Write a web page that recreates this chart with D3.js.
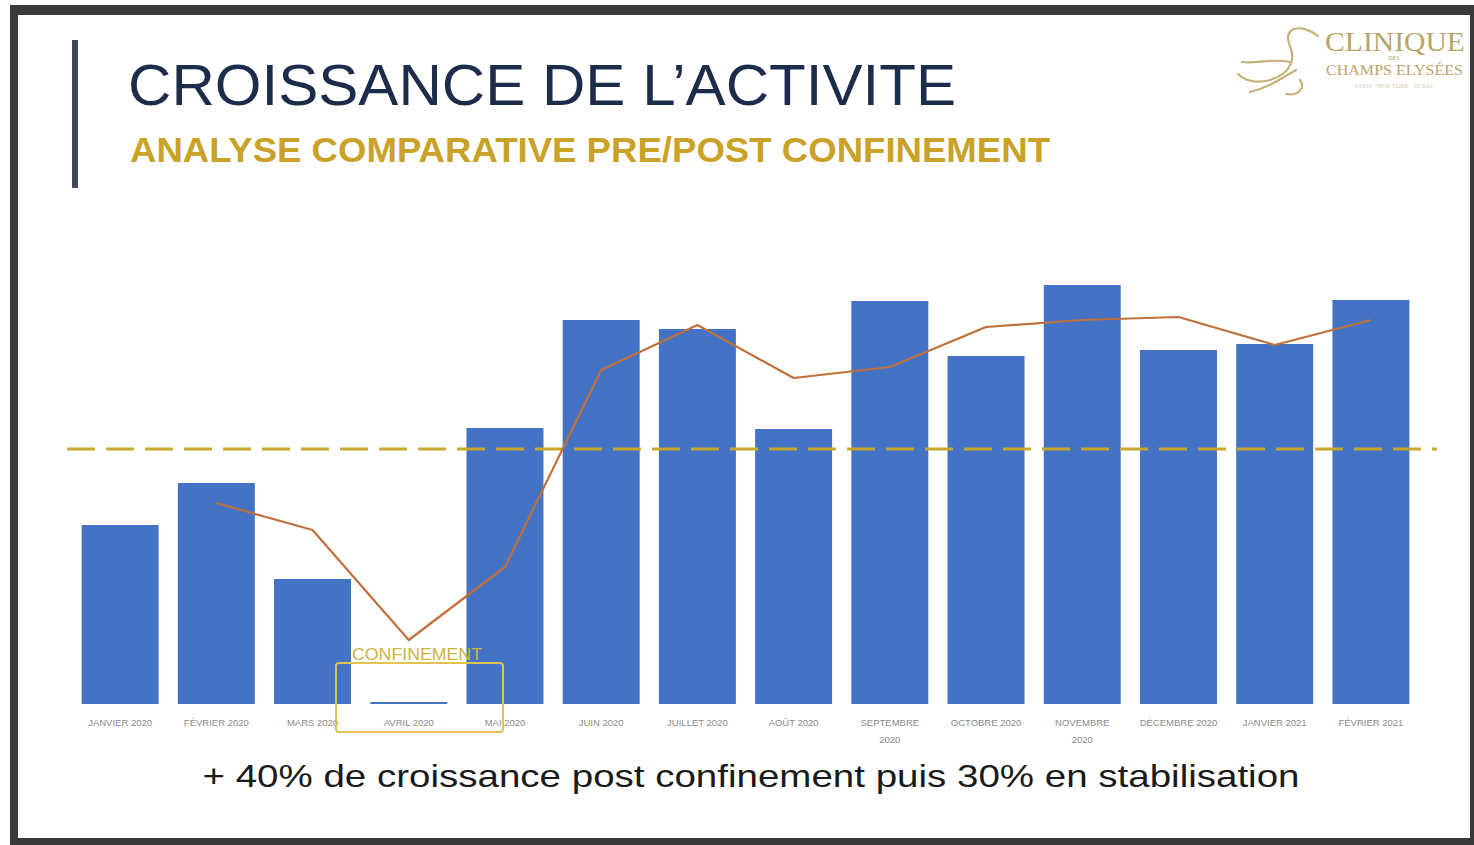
<!DOCTYPE html>
<html>
<head>
<meta charset="utf-8">
<script src="https://cdn.jsdelivr.net/npm/d3@7"></script>
<style>
  html, body { margin: 0; padding: 0; background: #fff; }
  svg { display: block; font-family: "Liberation Sans", Arial, sans-serif; }
</style>
</head>
<body>
<svg id="chart" width="1474" height="845"></svg>
<script>
// ---- data
var months = ["JANVIER 2020", "FÉVRIER 2020", "MARS 2020", "AVRIL 2020", "MAI 2020", "JUIN 2020", "JUILLET 2020",
  "AOÛT 2020", "SEPTEMBRE 2020", "OCTOBRE 2020", "NOVEMBRE 2020", "DÉCEMBRE 2020", "JANVIER 2021", "FÉVRIER 2021"]
var activity = [179, 221, 125, 2, 276, 384, 375, 275, 403, 348, 419, 354, 360, 404]
// trend line, starts at the second month
var trend = [null, 201, 174, 64, 137, 334, 379, 326, 337, 377, 384, 387, 359, 384]
var reference_level = 255
var wrapped_labels = { "SEPTEMBRE 2020": ["SEPTEMBRE", "2020"], "NOVEMBRE 2020": ["NOVEMBRE", "2020"] }

var svg = d3.select("#chart")

//------------------------------------------------------------ frame of the slide
svg.append("rect").attr("x", 10).attr("y", 5).attr("width", 1464).attr("height", 840).attr("fill", "#3a3a3a")
svg.append("rect").attr("x", 18).attr("y", 15).attr("width", 1452).attr("height", 823).attr("fill", "#ffffff")

//------------------------------------------------------------ header
svg.append("rect").attr("x", 72).attr("y", 40).attr("width", 6).attr("height", 148).attr("fill", "#3d4a5e")
svg.append("text").attr("x", 128).attr("y", 105).attr("font-size", 58).attr("fill", "#1e2c4c")
  .attr("textLength", 828).attr("lengthAdjust", "spacingAndGlyphs")
  .text("CROISSANCE DE L\u2019ACTIVITE")
svg.append("text").attr("x", 130).attr("y", 162).attr("font-size", 35).attr("font-weight", "bold").attr("fill", "#c9a227")
  .attr("textLength", 920).attr("lengthAdjust", "spacingAndGlyphs")
  .text("ANALYSE COMPARATIVE PRE/POST CONFINEMENT")

// logo
var logo = svg.append("g").attr("fill", "none").attr("stroke", "#c4b27a").attr("stroke-width", 2.2).attr("stroke-linecap", "round")
logo.append("path").attr("d", "M1318,36 C1300,22 1282,28 1290,46 C1296,60 1290,74 1270,80 C1255,84 1244,80 1238,74")
logo.append("path").attr("d", "M1290,62 C1272,58 1256,64 1242,62")
logo.append("path").attr("d", "M1296,70 C1282,78 1268,88 1250,92")
logo.append("path").attr("d", "M1300,80 C1306,88 1298,96 1286,94")
var logoText = svg.append("g").attr("fill", "#b8a567").attr("font-family", "'Liberation Serif', 'DejaVu Serif', serif")
logoText.append("text").attr("x", 1325).attr("y", 51).attr("font-size", 27).attr("textLength", 140).attr("lengthAdjust", "spacingAndGlyphs").text("CLINIQUE")
logoText.append("text").attr("x", 1394).attr("y", 60).attr("font-size", 6).attr("text-anchor", "middle").text("DES")
logoText.append("text").attr("x", 1326).attr("y", 75).attr("font-size", 14).attr("textLength", 137).attr("lengthAdjust", "spacingAndGlyphs").text("CHAMPS ELYSÉES")
logoText.append("text").attr("x", 1394).attr("y", 88).attr("font-size", 6).attr("text-anchor", "middle").attr("fill", "#d8cfb0").text("PARIS · NEW YORK · DUBAI")

//------------------------------------------------------------ scales
var xScale = d3.scaleBand().domain(months).range([72, 1419]).paddingInner(0.2).paddingOuter(0.1)
var yScale = d3.scaleLinear().domain([0, 450]).range([704, 254])
var g = svg.append("g")

//------------------------------------------------------------ bars
g.selectAll(".bar").data(months).join("rect").attr("class", "bar")
  .attr("x", d => xScale(d))
  .attr("y", (d, i) => yScale(activity[i]))
  .attr("width", xScale.bandwidth())
  .attr("height", (d, i) => yScale(0) - yScale(activity[i]))
  .attr("fill", "#4472c4")

// x axis labels
var xAxis = g.append("g").attr("transform", "translate(0,704)")
  .call(d3.axisBottom(xScale).tickSize(0).tickPadding(12).tickFormat(""))
xAxis.select(".domain").remove()
xAxis.selectAll(".tick").each(function (d) {
  var lines = wrapped_labels[d] || [d]
  var t = d3.select(this).append("text").attr("fill", "#8a8a8a").attr("font-size", 9.5)
    .attr("text-anchor", "middle").attr("y", 22)
  lines.forEach((l, k) => t.append("tspan").attr("x", 0).attr("dy", k === 0 ? 0 : 17).text(l))
})

//------------------------------------------------------------ reference level (dashed)
g.append("line").attr("x1", 67).attr("x2", 1437)
  .attr("y1", yScale(reference_level)).attr("y2", yScale(reference_level))
  .attr("stroke", "#c8a82a").attr("stroke-width", 3).attr("stroke-dasharray", "28,11")

//------------------------------------------------------------ trend line
var trendPoints = months.map((m, i) => [m, trend[i]]).filter(d => d[1] !== null)
var lineGenerator = d3.line().x(d => xScale(d[0]) + xScale.bandwidth() / 2).y(d => yScale(d[1]))
g.append("path").attr("d", lineGenerator(trendPoints))
  .attr("fill", "none").attr("stroke", "#c0703a").attr("stroke-width", 2.2).attr("stroke-linejoin", "round")

//------------------------------------------------------------ confinement annotation
g.append("rect").attr("x", 336).attr("y", 663).attr("width", 167).attr("height", 69).attr("rx", 3)
  .attr("fill", "none").attr("stroke", "#e2c352").attr("stroke-width", 2)
g.append("text").attr("x", 352).attr("y", 660).attr("font-size", 16).attr("fill", "#cbb53c")
  .attr("textLength", 130).attr("lengthAdjust", "spacingAndGlyphs").text("CONFINEMENT")

//------------------------------------------------------------ caption
svg.append("text").attr("x", 751).attr("y", 787).attr("text-anchor", "middle").attr("font-size", 32).attr("fill", "#1a1a1a")
  .attr("textLength", 1097).attr("lengthAdjust", "spacingAndGlyphs")
  .text("+ 40% de croissance post confinement puis 30% en stabilisation")
</script>
</body>
</html>
